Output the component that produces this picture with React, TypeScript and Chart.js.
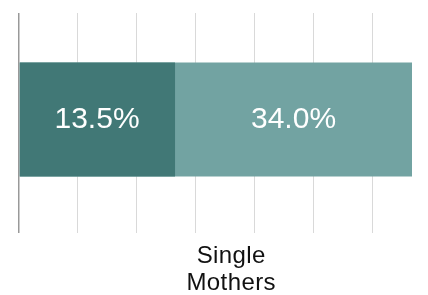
import React, { useEffect, useRef } from "react";
import { Chart, registerables } from "chart.js";

Chart.register(...registerables);

const categories = ["Single Mothers"];
const categoryLines = [["Single", "Mothers"]];
const innerValues = [13.5];
const outerValues = [34.0];
const valueLabels = ["13.5%", "34.0%"];
const axisMax = 34;
const gridStep = 5.1;

const FONT = "'Liberation Sans', Arial, Helvetica, sans-serif";

const labelsPlugin = {
  id: "customLabels",
  afterDatasetsDraw(chart: any) {
    const { ctx, chartArea, scales } = chart;
    const xs = scales.x;
    const ys = scales.y;
    ctx.save();
    const yc = ys.getPixelForValue(0);
    ctx.fillStyle = "#ffffff";
    ctx.font = `30px ${FONT}`;
    ctx.textAlign = "center";
    ctx.textBaseline = "middle";
    const x0 = xs.getPixelForValue(0);
    const x1 = xs.getPixelForValue(innerValues[0]);
    const x2 = xs.getPixelForValue(outerValues[0]);
    ctx.fillText(valueLabels[0], (x0 + x1) / 2, yc);
    ctx.fillText(valueLabels[1], (x1 + x2) / 2, yc);
    ctx.fillStyle = "#111111";
    ctx.font = `24px ${FONT}`;
    try { (ctx as any).letterSpacing = "0.4px"; } catch (e) {}
    ctx.textBaseline = "alphabetic";
    const cx = chartArea.left + (chartArea.right - chartArea.left) * 0.54;
    categoryLines[0].forEach((ln: string, i: number) => {
      ctx.fillText(ln, cx, chartArea.bottom + 37 + i * 27);
    });
    ctx.restore();
  },
};

export default function App() {
  const ref = useRef<HTMLCanvasElement>(null);
  useEffect(() => {
    document.documentElement.style.overflow = "hidden";
    const gridColor = (c: any) =>
      c.tick && c.tick.value === 0
        ? "#999999"
        : c.tick && c.tick.value >= axisMax
        ? "rgba(0,0,0,0)"
        : "#d9d9d9";
    const gridWidth = (c: any) => (c.tick && c.tick.value === 0 ? 1.5 : 1);
    const chart = new Chart(ref.current!, {
      type: "bar",
      data: {
        labels: categories,
        datasets: [
          {
            label: "inner",
            data: innerValues,
            backgroundColor: "#417876",
            grouped: false,
            barPercentage: 0.535,
            categoryPercentage: 1,
          },
          {
            label: "outer",
            data: outerValues,
            backgroundColor: "#72a3a2",
            grouped: false,
            barPercentage: 0.535,
            categoryPercentage: 1,
          },
        ],
      },
      options: {
        indexAxis: "y",
        responsive: false,
        animation: false,
        layout: { padding: { left: 11, right: 8, top: 5, bottom: 62 } },
        plugins: { legend: { display: false }, tooltip: { enabled: false } },
        scales: {
          x: {
            min: 0,
            max: axisMax,
            ticks: { display: false, stepSize: gridStep },
            border: { display: false },
            grid: {
              drawTicks: true,
              tickLength: 7,
              color: gridColor,
              tickColor: gridColor,
              lineWidth: gridWidth,
              tickWidth: gridWidth,
            },
          },
          y: { display: false },
        },
      },
      plugins: [labelsPlugin],
    });
    return () => chart.destroy();
  }, []);
  return (
    <div style={{ width: 412, height: 287 }}>
      <canvas ref={ref} width={412} height={287} />
    </div>
  );
}
